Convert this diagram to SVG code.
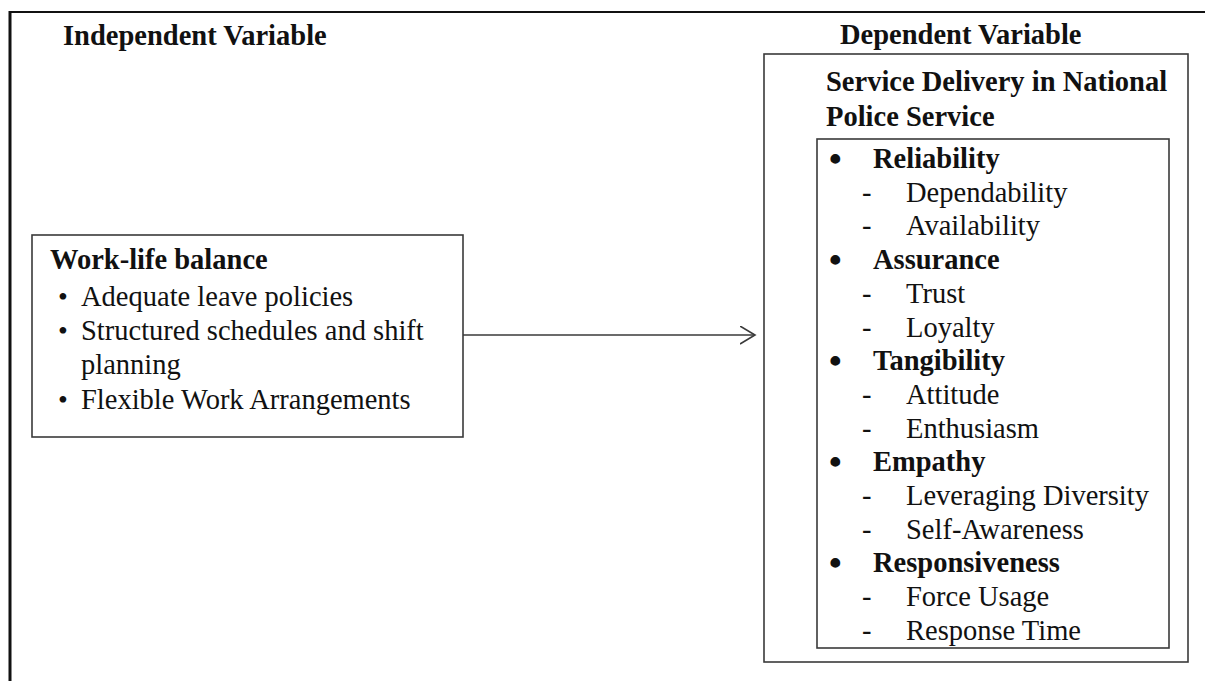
<svg xmlns="http://www.w3.org/2000/svg" width="1205" height="681" viewBox="0 0 1205 681">
<style>
text{font-family:"Liberation Serif","Times New Roman",serif;font-size:28.5px;fill:#111}
.b{font-weight:bold}
.bul{font-size:36px;font-weight:bold}
.bl{font-size:28px}
.box{fill:#fff;stroke:#3a3a3a;stroke-width:1.6}
.frame{stroke:#111;fill:none}
.conn{stroke:#3a3a3a;stroke-width:1.6;fill:none}
</style>
<defs>
<marker id="arr" markerWidth="20" markerHeight="20" refX="15" refY="9" orient="auto" markerUnits="userSpaceOnUse">
<path d="M0,0 L15,9 L0,18" fill="none" stroke="#3a3a3a" stroke-width="1.6"/>
</marker>
</defs>
<rect width="1205" height="681" fill="#fff"/>
<g id="frame">
<line class="frame" x1="9" y1="12" x2="1205" y2="12" stroke-width="2.2"/>
<line class="frame" x1="10" y1="11" x2="10" y2="681" stroke-width="3"/>
</g>
<g id="headings">
<text class="b" x="63" y="45">Independent Variable</text>
<text class="b" x="840" y="44">Dependent Variable</text>
</g>
<g id="connectors">
<line class="conn" x1="463" y1="335" x2="755" y2="335" marker-end="url(#arr)"/>
</g>
<g id="independent">
<rect class="box" x="32" y="235" width="431" height="202"/>
<text class="b" x="50" y="269">Work-life balance</text>
<text class="bl" x="58" y="306">•</text>
<text x="81" y="306">Adequate leave policies</text>
<text class="bl" x="58" y="340">•</text>
<text x="81" y="340">Structured schedules and shift</text>
<text x="81" y="374">planning</text>
<text class="bl" x="58" y="409">•</text>
<text x="81" y="409">Flexible Work Arrangements</text>
</g>
<g id="dependent">
<rect class="box" x="764" y="54" width="424" height="608"/>
<text class="b" x="826" y="91">Service Delivery in National</text>
<text class="b" x="826" y="126">Police Service</text>
<rect class="box" x="817" y="139" width="352" height="509"/>
<g id="reliability">
<text class="bul" x="829" y="171">•</text><text class="b" x="873" y="168">Reliability</text>
<text x="862" y="201.7">-</text><text x="906" y="201.7">Dependability</text>
<text x="862" y="235.4">-</text><text x="906" y="235.4">Availability</text>
</g>
<g id="assurance">
<text class="bul" x="829" y="272">•</text><text class="b" x="873" y="269">Assurance</text>
<text x="862" y="302.8">-</text><text x="906" y="302.8">Trust</text>
<text x="862" y="336.5">-</text><text x="906" y="336.5">Loyalty</text>
</g>
<g id="tangibility">
<text class="bul" x="829" y="373.2">•</text><text class="b" x="873" y="370.2">Tangibility</text>
<text x="862" y="403.9">-</text><text x="906" y="403.9">Attitude</text>
<text x="862" y="437.6">-</text><text x="906" y="437.6">Enthusiasm</text>
</g>
<g id="empathy">
<text class="bul" x="829" y="474.3">•</text><text class="b" x="873" y="471.3">Empathy</text>
<text x="862" y="505">-</text><text x="906" y="505">Leveraging Diversity</text>
<text x="862" y="538.7">-</text><text x="906" y="538.7">Self-Awareness</text>
</g>
<g id="responsiveness">
<text class="bul" x="829" y="575.4">•</text><text class="b" x="873" y="572.4">Responsiveness</text>
<text x="862" y="606.1">-</text><text x="906" y="606.1">Force Usage</text>
<text x="862" y="639.8">-</text><text x="906" y="639.8">Response Time</text>
</g>
</g>
</svg>
